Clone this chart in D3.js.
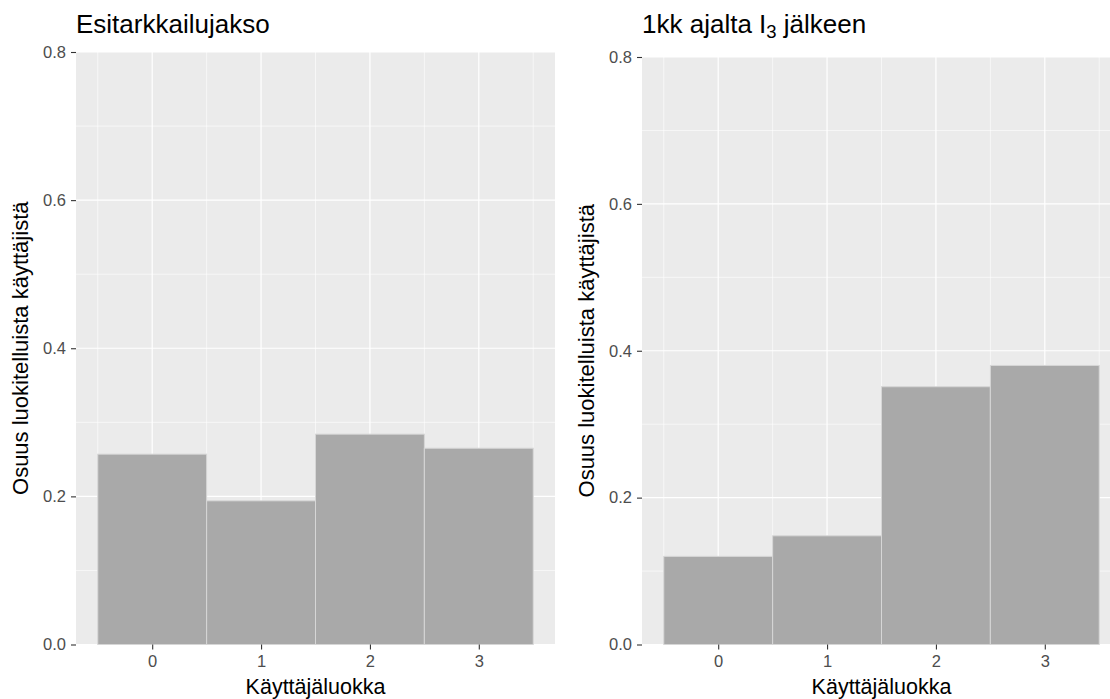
<!DOCTYPE html>
<html>
<head>
<meta charset="utf-8">
<script src="https://cdn.jsdelivr.net/npm/d3@7"></script>
<style>
  body { margin: 0; background: #fff; }
  text { font-family: "Liberation Sans", Arial, sans-serif; }
</style>
</head>
<body>
<div id="chart"></div>
<script>
// user classes and share of classified users, before and after
const classes = [0, 1, 2, 3];
const preValues = [0.257, 0.194, 0.284, 0.265];
const postValues = [0.120, 0.148, 0.351, 0.380];
const yTicks = [0, 0.2, 0.4, 0.6, 0.8];
const yMinor = [0.1, 0.3, 0.5, 0.7];
const xMinor = [-0.5, 0.5, 1.5, 2.5, 3.5];
const yLabel = "Osuus luokitelluista käyttäjistä";
const xLabel = "Käyttäjäluokka";

const width = 1110, height = 699;

const svg = d3.select("#chart")
    .append("svg")
    .attr("width", width)
    .attr("height", height);

function drawPanel(opts) {
    const x = d3.scaleLinear().domain([-0.7, 3.7]).range([opts.left, opts.left + 479]);
    const y = d3.scaleLinear().domain([0, 0.8]).range([opts.bottom, opts.top]);
    const g = svg.append("g");

    g.append("rect")
        .attr("x", x.range()[0]).attr("y", opts.top)
        .attr("width", x.range()[1] - x.range()[0])
        .attr("height", opts.bottom - opts.top)
        .attr("fill", "#ebebeb");

    // minor grid
    g.selectAll(".ymin").data(yMinor).enter().append("line")
        .attr("x1", x.range()[0]).attr("x2", x.range()[1])
        .attr("y1", d => y(d)).attr("y2", d => y(d))
        .attr("stroke", "#fff").attr("stroke-width", 0.6);
    g.selectAll(".xmin").data(xMinor).enter().append("line")
        .attr("x1", d => x(d)).attr("x2", d => x(d))
        .attr("y1", opts.top).attr("y2", opts.bottom)
        .attr("stroke", "#fff").attr("stroke-width", 0.6);
    // major grid
    g.selectAll(".ymaj").data(yTicks).enter().append("line")
        .attr("x1", x.range()[0]).attr("x2", x.range()[1])
        .attr("y1", d => y(d)).attr("y2", d => y(d))
        .attr("stroke", "#fff").attr("stroke-width", 1.2);
    g.selectAll(".xmaj").data(classes).enter().append("line")
        .attr("x1", d => x(d)).attr("x2", d => x(d))
        .attr("y1", opts.top).attr("y2", opts.bottom)
        .attr("stroke", "#fff").attr("stroke-width", 1.2);

    // bars
    g.selectAll(".bar").data(opts.values).enter().append("rect")
        .attr("x", (d, i) => x(classes[i] - 0.5))
        .attr("y", d => y(d))
        .attr("width", (d, i) => x(classes[i] + 0.5) - x(classes[i] - 0.5))
        .attr("height", d => y(0) - y(d))
        .attr("fill", "#a9a9a9")
        .attr("stroke", "#d6d6d6")
        .attr("stroke-width", 1);

    // axes
    const yAxis = d3.axisLeft(y).tickValues(yTicks).tickFormat(d3.format(".1f"))
        .tickSize(5).tickPadding(5);
    const xAxis = d3.axisBottom(x).tickValues(classes).tickFormat(d3.format("d"))
        .tickSize(5).tickPadding(6);

    const ya = g.append("g").attr("transform", `translate(${x.range()[0]},0)`).call(yAxis);
    const xa = g.append("g").attr("transform", `translate(0,${opts.bottom})`).call(xAxis);
    [ya, xa].forEach(a => {
        a.select(".domain").remove();
        a.selectAll(".tick line").attr("stroke", "#333").attr("stroke-width", 1.1);
        a.selectAll(".tick text").attr("fill", "#4d4d4d")
            .style("font-size", "16.5px");
    });

    // axis titles
    g.append("text")
        .attr("transform", `translate(${opts.left - 48},${(opts.top + opts.bottom) / 2}) rotate(-90)`)
        .attr("text-anchor", "middle")
        .style("font-size", "22px")
        .attr("fill", "#000")
        .text(yLabel);
    g.append("text")
        .attr("x", (x(-0.7) + x(3.7)) / 2)
        .attr("y", 694)
        .attr("text-anchor", "middle")
        .style("font-size", "21.5px")
        .attr("fill", "#000")
        .text(xLabel);

    // title
    const t = g.append("text")
        .attr("x", opts.left)
        .attr("y", 33)
        .style("font-size", "26px")
        .attr("fill", "#000");
    opts.title(t);
}

drawPanel({
    left: 76, top: 52, bottom: 644.5, values: preValues,
    title: t => t.text("Esitarkkailujakso")
});

drawPanel({
    left: 642, top: 57, bottom: 644.5, values: postValues,
    title: t => {
        t.append("tspan").text("1kk ajalta I");
        t.append("tspan").attr("dy", 5).style("font-size", "18.5px").text("3");
        t.append("tspan").attr("dy", -5).text(" jälkeen");
    }
});
</script>
</body>
</html>
